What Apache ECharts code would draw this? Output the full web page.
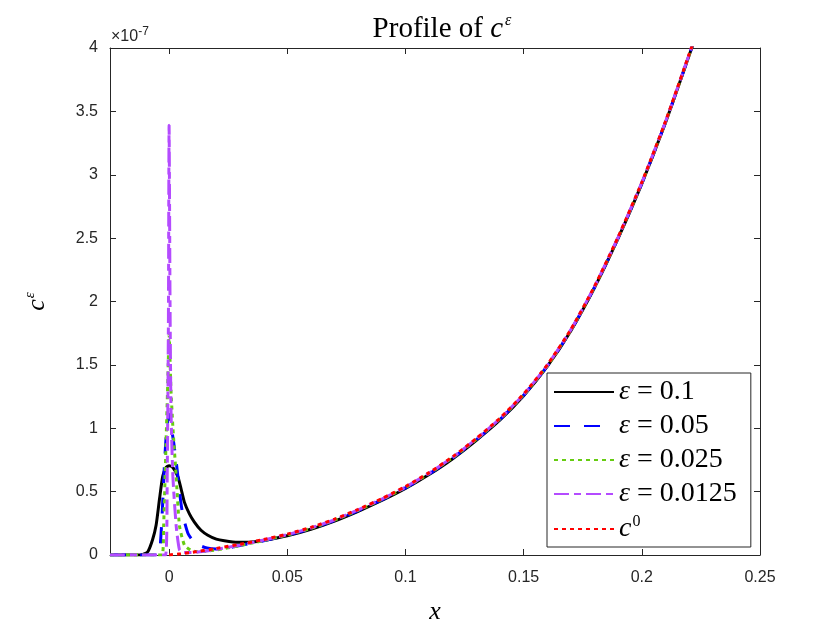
<!DOCTYPE html>
<html>
<head>
<meta charset="utf-8">
<script src="https://cdn.jsdelivr.net/npm/echarts@6/dist/echarts.min.js"></script>
<style>html,body{margin:0;padding:0;background:#fff}#c{width:840px;height:630px}</style>
</head>
<body>
<div id="c"></div>
<script>
// ---- data (y values in units of 1e-7) ----
const xTicks = [0, 0.05, 0.1, 0.15, 0.2, 0.25];
const yTicks = [0, 0.5, 1, 1.5, 2, 2.5, 3, 3.5, 4];

const eps01_x = [-0.025, -0.012, -0.011, -0.009, -0.007, -0.0055, -0.004, -0.0027, -0.0013, 0, 0.0016, 0.0037, 0.0051, 0.0065, 0.0086, 0.0107, 0.0135, 0.0164, 0.02, 0.0234, 0.029, 0.035, 0.04, 0.05, 0.06, 0.07, 0.08, 0.09, 0.1, 0.11, 0.12, 0.13, 0.14, 0.15, 0.16, 0.17, 0.18, 0.19, 0.2, 0.21, 0.22, 0.225];
const eps01_y = [0, 0, 0.005, 0.026, 0.12, 0.234, 0.45, 0.62, 0.69, 0.705, 0.69, 0.62, 0.52, 0.415, 0.325, 0.26, 0.195, 0.156, 0.125, 0.112, 0.1, 0.103, 0.115, 0.152, 0.203, 0.268, 0.345, 0.43, 0.525, 0.635, 0.76, 0.905, 1.065, 1.257, 1.488, 1.77, 2.11, 2.5, 2.93, 3.41, 3.94, 4.21];

const eps005_x = [-0.025, -0.005, -0.004, -0.003, -0.002, -0.001, 0, 0.001, 0.002, 0.003, 0.004, 0.005, 0.006, 0.008, 0.01, 0.013, 0.016, 0.02, 0.025, 0.03, 0.04, 0.05, 0.06, 0.07, 0.08, 0.09, 0.1, 0.11, 0.12, 0.13, 0.14, 0.15, 0.16, 0.17, 0.18, 0.19, 0.2, 0.21, 0.22, 0.225];
const eps005_y = [0, 0, 0.02, 0.3, 0.7, 1.0, 1.11, 1.0, 0.88, 0.74, 0.57, 0.41, 0.3, 0.17, 0.115, 0.075, 0.055, 0.048, 0.055, 0.075, 0.112, 0.155, 0.207, 0.272, 0.35, 0.435, 0.53, 0.64, 0.765, 0.91, 1.07, 1.26, 1.49, 1.772, 2.112, 2.502, 2.932, 3.412, 3.942, 4.212];

const eps0025_x = [-0.025, -0.003, -0.0023, -0.0013, -0.0005, 0, 0.0008, 0.0016, 0.003, 0.0044, 0.0065, 0.009, 0.012, 0.016, 0.02, 0.03, 0.04, 0.05, 0.06, 0.07, 0.08, 0.09, 0.1, 0.11, 0.12, 0.13, 0.14, 0.15, 0.16, 0.17, 0.18, 0.19, 0.2, 0.21, 0.22, 0.225];
const eps0025_y = [0, 0, 0.23, 0.88, 1.4, 1.74, 1.3, 1.01, 0.62, 0.23, 0.078, 0.04, 0.026, 0.03, 0.04, 0.075, 0.114, 0.158, 0.21, 0.275, 0.353, 0.438, 0.533, 0.643, 0.768, 0.913, 1.073, 1.263, 1.493, 1.775, 2.115, 2.505, 2.935, 3.415, 3.945, 4.215];

const eps00125_x = [-0.025, -0.0015, -0.0008, -0.0003, 0, 0.0004, 0.0008, 0.0016, 0.003, 0.0044, 0.006, 0.01, 0.015, 0.02, 0.03, 0.04, 0.05, 0.06, 0.07, 0.08, 0.09, 0.1, 0.11, 0.12, 0.13, 0.14, 0.15, 0.16, 0.17, 0.18, 0.19, 0.2, 0.21, 0.22, 0.225];
const eps00125_y = [0, 0, 0.62, 1.8, 3.39, 2.0, 1.15, 0.62, 0.23, 0.04, 0.02, 0.02, 0.03, 0.045, 0.078, 0.118, 0.161, 0.213, 0.278, 0.356, 0.441, 0.536, 0.646, 0.771, 0.916, 1.076, 1.266, 1.496, 1.778, 2.118, 2.508, 2.938, 3.418, 3.948, 4.218];

const c0_x = [0, 0.005, 0.01, 0.02, 0.03, 0.04, 0.05, 0.06, 0.07, 0.08, 0.09, 0.1, 0.11, 0.12, 0.13, 0.14, 0.15, 0.16, 0.17, 0.18, 0.19, 0.2, 0.21, 0.22, 0.225];
const c0_y = [0, 0.01, 0.022, 0.052, 0.085, 0.122, 0.165, 0.218, 0.283, 0.36, 0.445, 0.54, 0.65, 0.775, 0.92, 1.08, 1.27, 1.5, 1.78, 2.12, 2.51, 2.94, 3.42, 3.95, 4.22];

const seriesNames = ['eps01', 'eps005', 'eps0025', 'eps00125', 'c0'];
const legendLabels = {
  eps01: '{e|ε} = 0.1',
  eps005: '{e|ε} = 0.05',
  eps0025: '{e|ε} = 0.025',
  eps00125: '{e|ε} = 0.0125',
  c0: '{e|c}{s|0}'
};

const pairs = (xs, ys) => xs.map((x, i) => [x, ys[i]]);
const serif = "'Liberation Serif', 'DejaVu Serif', serif";
const sans = "'Liberation Sans', Arial, sans-serif";
const axisColor = '#262626';

function mkSeries(name, xs, ys, color, type) {
  return {
    name: name, type: 'line', data: pairs(xs, ys),
    showSymbol: false, symbol: 'none', clip: true,
    smooth: 0.2,
    lineStyle: { color: color, width: 3, type: type },
    itemStyle: { color: color },
    emphasis: { disabled: true }
  };
}

const chart = echarts.init(document.getElementById('c'));
chart.setOption({
  animation: false,
  backgroundColor: '#ffffff',
  title: {
    text: 'Profile of {i|c}{s|ε}',
    left: 437, top: 8, textAlign: 'center',
    textStyle: {
      fontFamily: serif, fontSize: 29, fontWeight: 'normal', color: '#000',
      rich: {
        i: { fontFamily: serif, fontStyle: 'italic', fontSize: 29, color: '#000' },
        s: { fontFamily: serif, fontStyle: 'italic', fontSize: 16, color: '#000', padding: [0, 0, 16, 2] }
      }
    }
  },
  grid: { left: 110, right: 80, top: 48, bottom: 71, containLabel: false },
  xAxis: [{
    type: 'value', position: 'bottom', min: -0.025, max: 0.25,
    name: '{i|x}', nameLocation: 'middle', nameGap: 44,
    nameTextStyle: { rich: { i: { fontFamily: serif, fontStyle: 'italic', fontSize: 26, color: '#000' } } },
    axisLine: { show: true, onZero: false, lineStyle: { color: axisColor, width: 1 } },
    axisTick: { show: true, inside: true, length: 6, customValues: xTicks, lineStyle: { color: axisColor } },
    axisLabel: { customValues: xTicks, fontFamily: sans, fontSize: 16, color: axisColor, margin: 15 },
    splitLine: { show: false }
  }, {
    type: 'value', position: 'top', min: -0.025, max: 0.25,
    axisLine: { show: true, onZero: false, lineStyle: { color: axisColor, width: 1 } },
    axisTick: { show: true, inside: true, length: 6, customValues: xTicks, lineStyle: { color: axisColor } },
    axisLabel: { show: false },
    splitLine: { show: false }
  }],
  yAxis: [{
    type: 'value', position: 'left', min: 0, max: 4, interval: 0.5,
    name: '{i|c}{s|ε}', nameLocation: 'middle', nameGap: 58, nameRotate: 90,
    nameTextStyle: { rich: {
      i: { fontFamily: serif, fontStyle: 'italic', fontSize: 26, color: '#000' },
      s: { fontFamily: serif, fontStyle: 'italic', fontSize: 15, color: '#000', padding: [0, 0, 14, 1] }
    } },
    axisLine: { show: true, onZero: false, lineStyle: { color: axisColor, width: 1 } },
    axisTick: { show: true, inside: true, length: 6, lineStyle: { color: axisColor } },
    axisLabel: { fontFamily: sans, fontSize: 16, color: axisColor, margin: 12 },
    splitLine: { show: false }
  }, {
    type: 'value', position: 'right', min: 0, max: 4, interval: 0.5,
    axisLine: { show: true, onZero: false, lineStyle: { color: axisColor, width: 1 } },
    axisTick: { show: true, inside: true, length: 6, lineStyle: { color: axisColor } },
    axisLabel: { show: false },
    splitLine: { show: false }
  }],
  legend: {
    data: seriesNames,
    orient: 'vertical', left: 547, top: 373,
    padding: [5, 14, 3, 6],
    itemWidth: 60, itemHeight: 10, itemGap: 6,
    backgroundColor: '#ffffff',
    borderColor: axisColor, borderWidth: 1, borderRadius: 0,
    selectedMode: false,
    itemStyle: { opacity: 0 },
    formatter: (n) => legendLabels[n],
    textStyle: {
      fontFamily: serif, fontSize: 28, color: '#000', lineHeight: 25,
      rich: {
        e: { fontFamily: serif, fontStyle: 'italic', fontSize: 28, color: '#000', lineHeight: 25 },
        s: { fontFamily: serif, fontSize: 16, color: '#000', lineHeight: 25, padding: [0, 0, 14, 1] }
      }
    }
  },
  graphic: [{
    type: 'text', left: 111, top: 26,
    style: {
      text: '×10{s|-7}',
      font: "16px 'Liberation Sans', Arial, sans-serif",
      fill: axisColor,
      rich: { s: { fontSize: 12, fontFamily: sans, fill: axisColor, padding: [0, 0, 9, 0] } }
    }
  }],
  series: [
    mkSeries('eps01', eps01_x, eps01_y, '#000000', 'solid'),
    mkSeries('eps005', eps005_x, eps005_y, '#0000ff', [16, 14]),
    mkSeries('eps0025', eps0025_x, eps0025_y, '#66cc11', [4, 4]),
    mkSeries('eps00125', eps00125_x, eps00125_y, '#b44bff', [15, 5, 7, 5]),
    mkSeries('c0', c0_x, c0_y, '#ff0000', [4, 4])
  ]
});
</script>
</body>
</html>
